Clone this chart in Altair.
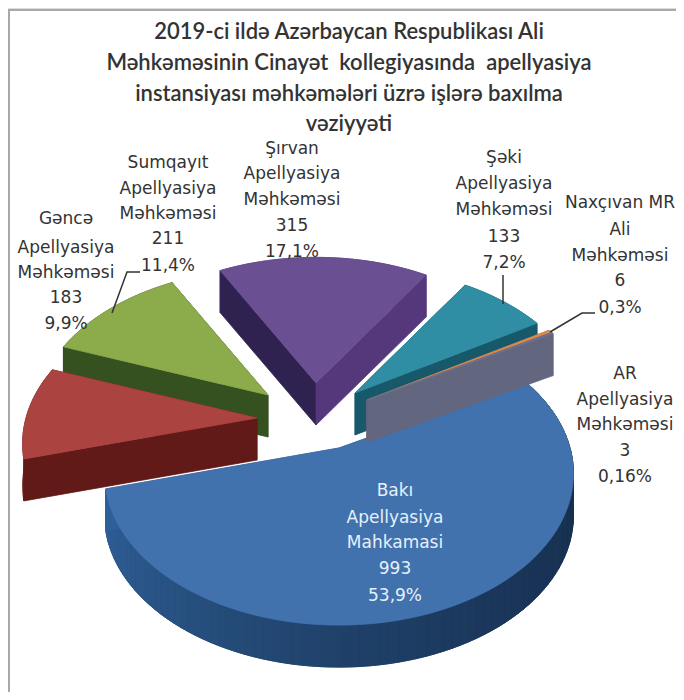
import math
import altair as alt

# ---- data ----
names = ["Şirvan", "Sumqayıt", "Gəncə", "Şəki", "Bakı", "Naxçıvan", "AR"]
clockwise_order = ["Şirvan", "Şəki", "Naxçıvan", "AR", "Bakı", "Gəncə", "Sumqayıt"]
cases = {"Şirvan": 315, "Şəki": 133, "Naxçıvan": 6, "AR": 3, "Bakı": 993, "Gəncə": 183, "Sumqayıt": 211}

title_lines = [
    "2019-ci ildə Azərbaycan Respublikası Ali",
    "Məhkəməsinin Cinayət\u00a0 kollegiyasında\u00a0 apellyasiya",
    "instansiyası məhkəmələri üzrə işlərə baxılma",
    "vəziyyəti",
]
label_lines = {
    "Sumqayıt": ["Sumqayıt", "Apellyasiya", "Məhkəməsi", "211", "11,4%"],
    "Şirvan": ["Şırvan", "Apellyasiya", "Məhkəməsi", "315", "17,1%"],
    "Şəki": ["Şəki", "Apellyasiya", "Məhkəməsi", "133", "7,2%"],
    "Naxçıvan": ["Naxçıvan MR", "Ali", "Məhkəməsi", "6", "0,3%"],
    "Gəncə": ["Gəncə", "Apellyasiya", "Məhkəməsi", "183", "9,9%"],
    "AR": ["AR", "Apellyasiya", "Məhkəməsi", "3", "0,16%"],
    "Bakı": ["Bakı", "Apellyasiya", "Mahkamasi", "993", "53,9%"],
}

# ---- layout and style ----
W, H = 668, 684
OFF = 8  # page margin
RX, RY, PERSP, DEPTH = 231, 147, 0.17, 42
START_DEG = 331.5
apex = {"Şirvan": (316, 383), "Şəki": (355, 393), "Naxçıvan": (367, 400), "AR": (367, 400),
        "Bakı": (339, 448), "Gəncə": (257, 418), "Sumqayıt": (268, 395)}
top_col = {"Şirvan": "#6a4f92", "Şəki": "#2f8ea3", "Naxçıvan": "#dc8a45", "AR": "#6f7191",
           "Bakı": "#4272ae", "Gəncə": "#ab4341", "Sumqayıt": "#8cab4a"}
start_col = {"Şirvan": "#2f2250", "Şəki": "#17586a", "Naxçıvan": "#63667f", "AR": "#63667f",
             "Bakı": "#2a4f7f", "Gəncə": "#611a17", "Sumqayıt": "#35511f"}
end_col = {"Şirvan": "#55387c", "Şəki": "#17586a", "Naxçıvan": "#63667f", "AR": "#63667f",
           "Bakı": "#2f5f99", "Gəncə": "#611a17", "Sumqayıt": "#35511f"}
rim_col = {"Şirvan": "#55387c", "Şəki": "#17586a", "Naxçıvan": "#63667f", "AR": "#63667f",
           "Bakı": "#1f4068", "Gəncə": "#611a17", "Sumqayıt": "#35511f"}
# shading stops of the big wedge's rim, right to left
baku_rim_stops = ["#1c3b60", "#17304f", "#1a3558", "#1f4068", "#27507f", "#2f5f99"]
label_pos = {"Sumqayıt": (168, [163, 189, 214, 239, 266]), "Şirvan": (292, [149, 174, 200, 226, 252]),
             "Şəki": (504, [158, 184, 210, 237, 263]), "Naxçıvan": (620, [203, 230, 256, 281, 308]),
             "Gəncə": (66, [219, 248, 273, 298, 324]), "AR": (625, [374, 400, 425, 451, 477]),
             "Bakı": (395, [491, 518, 543, 569, 596])}
title_y = [32, 63, 94, 124]
leaders = {"Gəncə": [(112, 313), (127, 272), (140, 272)], "Şəki": [(503, 275), (503, 304)],
           "Naxçıvan": [(550, 332), (582, 313), (595, 313)]}
frame_rows = [
    {"x": 8, "x2": 10, "y": 9, "y2": 692, "c": "#a9a9a9"},
    {"x": 8, "x2": 676, "y": 9, "y2": 11, "c": "#a9a9a9"},
]

total = sum(cases.values())
spans = {}
a = START_DEG
for n in clockwise_order:
    b = a + 360 * cases[n] / total
    spans[n] = (a, b)
    a = b


def rim_point(n, deg):
    u, v = math.sin(math.radians(deg)), math.cos(math.radians(deg))
    s = 1 / (1 + PERSP * v)
    return (apex[n][0] + RX * u * s, apex[n][1] - RY * v * s)


def poly(pts, color):
    ring = [[round(x - OFF, 2), round(y - OFF, 2)] for x, y in pts]
    ring.append(ring[0])
    return {"type": "Feature", "properties": {"color": color},
            "geometry": {"type": "Polygon", "coordinates": [ring]}}


def down(p, d=DEPTH):
    return (p[0], p[1] + d)


def shade(stops, t):
    pos = t * (len(stops) - 1)
    i = min(int(pos), len(stops) - 2)
    f = pos - i
    c0 = [int(stops[i][k:k + 2], 16) for k in (1, 3, 5)]
    c1 = [int(stops[i + 1][k:k + 2], 16) for k in (1, 3, 5)]
    return "#" + "".join(f"{round(p + (q - p) * f):02x}" for p, q in zip(c0, c1))


features = []
for n in names:
    a0, a1 = spans[n]
    steps = max(2, int((a1 - a0) / 2))
    arc = [rim_point(n, a0 + (a1 - a0) * i / steps) for i in range(steps + 1)]
    c = apex[n]
    # rim as one piece, then the two cut faces, then the top
    features.append(poly(arc + [down(p) for p in reversed(arc)], rim_col[n]))
    if n == "Bakı":
        for j in range(steps):
            seg = arc[j: j + 2]
            features.append(poly(seg + [down(p) for p in reversed(seg)], shade(baku_rim_stops, j / (steps - 1))))
    features.append(poly([c, arc[0], down(arc[0]), down(c)], start_col[n]))
    features.append(poly([c, arc[-1], down(arc[-1]), down(c)], end_col[n]))
    features.append(poly([c] + arc, top_col[n]))

pie = alt.Chart(alt.Data(values=features)).mark_geoshape(strokeWidth=0.8).encode(
    fill=alt.Fill("properties.color:N", scale=None),
    stroke=alt.Stroke("properties.color:N", scale=None),
).project(type="identity", scale=1, translate=[0, 0])

xs = alt.Scale(domain=[OFF, OFF + W], range=[0, W])
ys = alt.Scale(domain=[OFF, OFF + H], range=[0, H])
X = lambda f: alt.X(f, type="quantitative", scale=xs, axis=None)
Y = lambda f: alt.Y(f, type="quantitative", scale=ys, axis=None)

frame = alt.Chart(alt.Data(values=frame_rows)).mark_rect().encode(
    x=X("x"), x2="x2", y=Y("y"), y2="y2", color=alt.Color("c:N", scale=None)
)

title_rows = [{"x": 349, "y": y, "t": t} for y, t in zip(title_y, title_lines)]
title = alt.Chart(alt.Data(values=title_rows)).mark_text(
    font="Lato", fontSize=22, fontWeight=600, color="#333333", align="center", baseline="middle"
).encode(x=X("x"), y=Y("y"), text="t:N")

label_rows = []
for n, lines in label_lines.items():
    x0, yy = label_pos[n]
    for y, t in zip(yy, lines):
        label_rows.append({"x": x0, "y": y, "t": t, "c": "#e4f0fa" if n == "Bakı" else "#333333"})
labels = alt.Chart(alt.Data(values=label_rows)).mark_text(
    font="DejaVu Sans", fontSize=17, align="center", baseline="middle"
).encode(x=X("x"), y=Y("y"), text="t:N", color=alt.Color("c:N", scale=None))

leader_rows = []
for n, pts in leaders.items():
    for i, (x, y) in enumerate(pts):
        leader_rows.append({"x": x, "y": y, "n": n, "i": i})
lines = alt.Chart(alt.Data(values=leader_rows)).mark_line(color="#333333", strokeWidth=1.5).encode(
    x=X("x"), y=Y("y"), detail="n:N", order="i:Q"
)

chart = alt.layer(frame, pie, lines, title, labels).properties(
    width=W, height=H, padding=0, autosize=alt.AutoSizeParams(type="none")
).configure_view(stroke=None).configure(background="white")

chart.save("out.html", embed_options={"renderer": "svg", "actions": False})
